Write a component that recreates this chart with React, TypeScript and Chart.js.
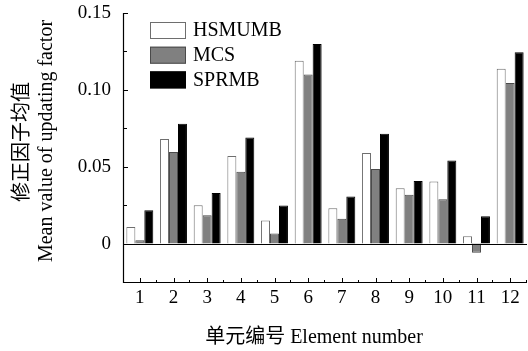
import React, { useEffect, useRef } from "react";
import { Chart, registerables } from "chart.js";

Chart.register(...registerables);

const categories = ["1", "2", "3", "4", "5", "6", "7", "8", "9", "10", "11", "12"];
const seriesNames = ["HSMUMB", "MCS", "SPRMB"];
const hsmumb = [0.0108, 0.068, 0.025, 0.057, 0.015, 0.119, 0.023, 0.059, 0.036, 0.0404, 0.0047, 0.1138];
const mcs = [0.0021, 0.0595, 0.0184, 0.0467, 0.0065, 0.11, 0.0162, 0.0485, 0.0318, 0.0288, -0.006, 0.1045];
const sprmb = [0.0216, 0.078, 0.0329, 0.069, 0.0247, 0.1298, 0.0307, 0.0714, 0.0407, 0.054, 0.0177, 0.1244];
const yTitle = ["修正因子均值", "Mean value of updating factor"];
const xTitle = "单元编号 Element number";
const yMin = -0.025;
const yMax = 0.15;
const yStep = 0.025;

const FONT_FAMILY = "'Liberation Serif', 'Times New Roman', 'Noto Sans CJK SC', serif";

const decorPlugin = {
  id: "decor",
  afterDatasetsDraw(chart: any) {
    const { ctx, chartArea } = chart;
    const { left, right, top, bottom } = chartArea;
    const ys = chart.scales.y;
    const xs = chart.scales.x;
    ctx.save();
    ctx.strokeStyle = "#000";
    ctx.lineWidth = 1;
    // zero line
    const y0 = Math.round(ys.getPixelForValue(0)) + 0.5;
    ctx.beginPath();
    ctx.moveTo(left, y0);
    ctx.lineTo(right, y0);
    ctx.stroke();
    // axes
    ctx.lineWidth = 1.2;
    ctx.beginPath();
    ctx.moveTo(left + 0.5, top);
    ctx.lineTo(left + 0.5, bottom + 0.5);
    ctx.lineTo(right, bottom + 0.5);
    ctx.stroke();
    ctx.lineWidth = 1;
    // y ticks (inward)
    for (let v = 0; v <= yMax + 1e-9; v += yStep) {
      const py = Math.round(ys.getPixelForValue(v)) + 0.5;
      const major = Math.abs(v / 0.05 - Math.round(v / 0.05)) < 1e-6;
      ctx.beginPath();
      ctx.moveTo(left, py);
      ctx.lineTo(left + (major ? 5 : 4), py);
      ctx.stroke();
    }
    // x ticks (inward)
    const n = categories.length;
    const w = (right - left) / n;
    for (let i = 0; i < n; i++) {
      const px = Math.round(xs.getPixelForValue(i)) + 0.5;
      ctx.beginPath();
      ctx.moveTo(px, bottom);
      ctx.lineTo(px, bottom - 4);
      ctx.stroke();
    }
    for (let k = 1; k <= n; k++) {
      const px = Math.round(left + k * w) - 0.5;
      ctx.beginPath();
      ctx.moveTo(px, bottom);
      ctx.lineTo(px, bottom - 2);
      ctx.stroke();
    }
    // legend
    const ds = chart.data.datasets;
    ctx.font = "20px " + FONT_FAMILY;
    ctx.textAlign = "left";
    ctx.textBaseline = "middle";
    for (let i = 0; i < ds.length; i++) {
      const bx = 150;
      const by = 22 + i * 24.7;
      ctx.fillStyle = ds[i].backgroundColor;
      ctx.fillRect(bx, by, 36, 17);
      ctx.strokeStyle = ds[i].borderColor;
      ctx.strokeRect(bx + 0.5, by + 0.5, 35, 16);
      ctx.fillStyle = "#000";
      ctx.fillText(ds[i].label, 193, by + 9);
    }
    // titles
    ctx.fillStyle = "#000";
    ctx.textAlign = "center";
    ctx.textBaseline = "middle";
    ctx.save();
    ctx.translate(23, 142);
    ctx.rotate(-Math.PI / 2);
    ctx.fillText(yTitle[0], 0, 0);
    ctx.restore();
    ctx.save();
    ctx.translate(47, 141);
    ctx.rotate(-Math.PI / 2);
    ctx.fillText(yTitle[1], 0, 0);
    ctx.restore();
    ctx.fillText(xTitle, 314, 338);
    ctx.restore();
  },
};

export default function App() {
  const ref = useRef<HTMLCanvasElement | null>(null);
  useEffect(() => {
    if (!ref.current) return;
    const chart = new Chart(ref.current, {
      type: "bar",
      data: {
        labels: categories,
        datasets: [
          { label: seriesNames[0], data: hsmumb, backgroundColor: "#ffffff", borderColor: "#6e6e6e", borderWidth: 1 },
          { label: seriesNames[1], data: mcs, backgroundColor: "#808080", borderColor: "#4a4a4a", borderWidth: 1 },
          { label: seriesNames[2], data: sprmb, backgroundColor: "#000000", borderColor: "#000000", borderWidth: 1 },
        ],
      },
      options: {
        animation: false,
        responsive: true,
        maintainAspectRatio: false,
        layout: { padding: { top: 13, right: 1, left: 0, bottom: 0 } },
        datasets: { bar: { categoryPercentage: 0.8, barPercentage: 1.0 } },
        plugins: { legend: { display: false }, tooltip: { enabled: false }, title: { display: false } },
        scales: {
          x: {
            type: "category",
            grid: { display: false, drawTicks: false },
            border: { display: false },
            ticks: { color: "#000", font: { family: FONT_FAMILY, size: 19 }, padding: 5, maxRotation: 0, autoSkip: false },
            afterFit(scale: any) {
              scale.height = 69;
              scale.paddingLeft = 0;
              scale.paddingRight = 0;
            },
          },
          y: {
            type: "linear",
            min: yMin,
            max: yMax,
            grid: { display: false, drawTicks: false },
            border: { display: false },
            ticks: {
              stepSize: yStep,
              color: "#000",
              padding: 12,
              font: { family: FONT_FAMILY, size: 19 },
              callback(value: any) {
                const v = Number(value);
                if (Math.abs(v) < 1e-9) return "0";
                if (v < 0) return "";
                const r = v / 0.05;
                if (Math.abs(r - Math.round(r)) < 1e-6) return v.toFixed(2);
                return "";
              },
            },
            afterFit(scale: any) {
              scale.width = 123;
              scale.paddingTop = 0;
              scale.paddingBottom = 0;
            },
          },
        },
      },
      plugins: [decorPlugin],
    } as any);
    return () => chart.destroy();
  }, []);
  return (
    <div style={{ position: "absolute", left: 0, top: 0, width: 528, height: 351, background: "#fff" }}>
      <canvas ref={ref} />
    </div>
  );
}
